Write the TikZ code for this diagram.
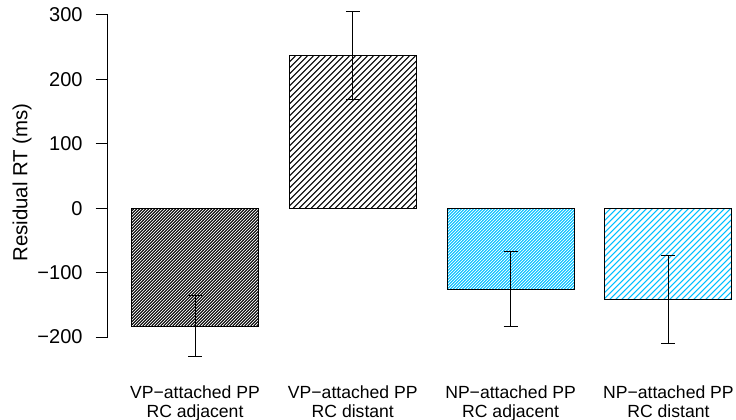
\documentclass[tikz,border=0pt]{standalone}
\usepackage{fontspec}
\setmainfont{Liberation Sans}
\definecolor{barcyan}{RGB}{0,191,255}
\newcommand\hatchbar[6]{%
  \begin{scope}
    \clip (#1,#2) rectangle (#3,#4);
    \pgfmathsetmacro\hbstart{#1+#2}
    \pgfmathtruncatemacro\hbn{ceil((#3+#4-#1-#2)/#5)}
    \foreach \i in {0,...,\hbn}{
      \pgfmathsetmacro\hbc{\hbstart+\i*#5}
      \draw[#6,line width=1pt] (\hbc-#4,#4) -- (\hbc-#2,#2);
    }
  \end{scope}
  \draw[black,line width=1pt] (#1,#2) rectangle (#3,#4);
}
\begin{document}
\begin{tikzpicture}[x=1pt,y=-1pt,line width=1pt,
  ticklab/.style={font=\fontsize{20}{24}\selectfont,anchor=east,inner sep=0pt},
  barlab/.style={font=\fontsize{17.6}{19.5}\selectfont,align=center,anchor=north,inner sep=0pt},
  errbar/.style={black,line width=1pt}]
\useasboundingbox (0,0) rectangle (736,420);

% axis
\coordinate (atop) at (107.5,15);
\coordinate (abot) at (107.5,337);
\draw (atop) -- (abot);
\foreach \v/\y/\t [count=\k] in {300/15/300,200/79.4/200,100/143.8/100,0/208.2/0,-100/272.6/{−100},-200/337/{−200}}{
  \draw (95.5,\y) -- (107.5,\y);
  \node[ticklab] (tick\k) at (83,\y) {\t};
}
\node[font=\fontsize{20.4}{24}\selectfont,rotate=90,inner sep=0pt] (ylab) at (22,182.5) {Residual RT (ms)};

% bars
\hatchbar{131.5}{208.2}{258.5}{326}{3}{black}
\hatchbar{289.3}{56}{416.5}{208.2}{6}{black}
\hatchbar{447.1}{208.2}{574.1}{289}{3}{barcyan}
\hatchbar{604.9}{208.2}{731.9}{299.3}{6}{barcyan}

% error bars
\foreach \x/\a/\b [count=\k] in {195/295.7/356,352.8/12/99.3,510.6/251/326.7,668.4/255.3/343.3}{
  \coordinate (eu\k) at (\x,\a);
  \coordinate (el\k) at (\x,\b);
  \draw[errbar] (eu\k) -- (el\k);
  \draw[errbar] ([xshift=-7pt]eu\k) -- ([xshift=7pt]eu\k);
  \draw[errbar] ([xshift=-7pt]el\k) -- ([xshift=7pt]el\k);
}

% bar labels
\node[barlab] (l1) at (195,385) {VP−attached PP\\RC adjacent};
\node[barlab] (l2) at (352.8,385) {VP−attached PP\\RC distant};
\node[barlab] (l3) at (510.6,385) {NP−attached PP\\RC adjacent};
\node[barlab] (l4) at (668.4,385) {NP−attached PP\\RC distant};
\end{tikzpicture}
\end{document}
